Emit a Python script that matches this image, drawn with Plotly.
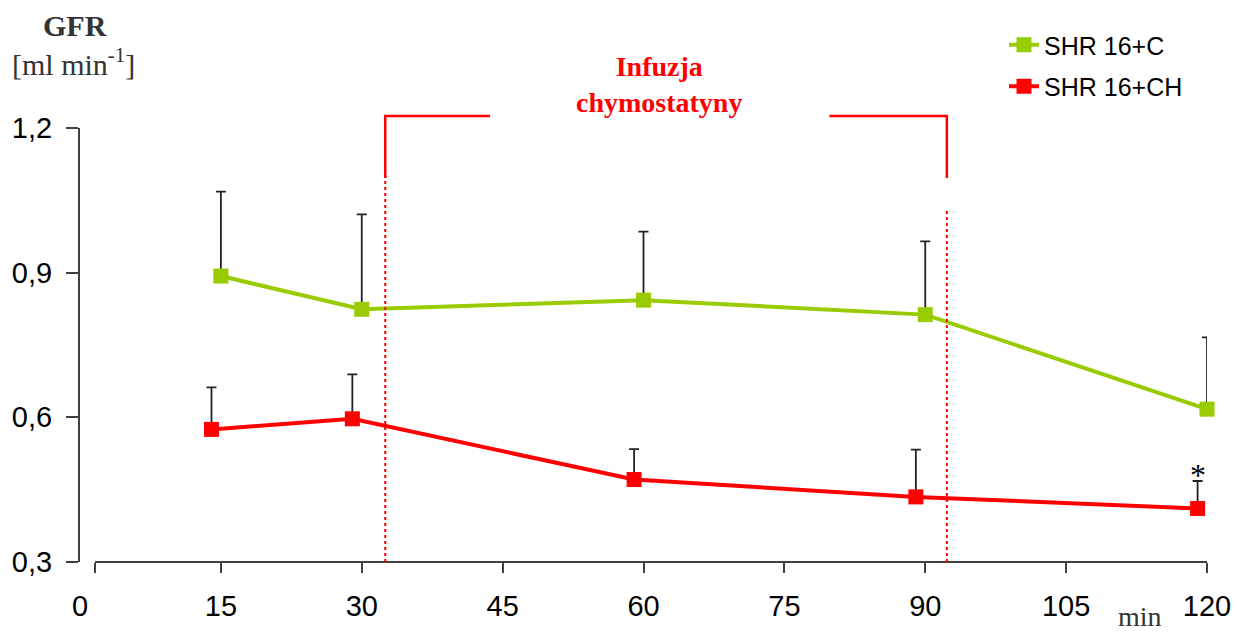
import plotly.graph_objects as go

# GFR readings (ml/min) per sampling minute, mean and upper SEM
minutes_c = [15, 30, 60, 90, 120]
gfr_c = [0.893, 0.824, 0.843, 0.813, 0.617]
sem_c = [0.175, 0.197, 0.142, 0.152, 0.149]

minutes_ch = [14, 29, 59, 89, 119]
gfr_ch = [0.575, 0.597, 0.471, 0.435, 0.411]
sem_ch = [0.087, 0.092, 0.063, 0.098, 0.057]

series_names = ["SHR 16+C", "SHR 16+CH"]
series_colors = ["#99CC00", "#FF0000"]

x_tickvals = [0, 15, 30, 45, 60, 75, 90, 105, 120]
x_ticktext = ["0", "15", "30", "45", "60", "75", "90", "105", "120"]
y_tickvals = [0.3, 0.6, 0.9, 1.2]
y_ticktext = ["0,3", "0,6", "0,9", "1,2"]

# chymostatin infusion window (minutes)
infusion_start = 32.5
infusion_end = 92.3

# significance mark on the last CH point
star_minute = 119

W, H = 1237, 634
M_L, M_R, M_T, M_B = 80, 30, 128, 72
plot_w = W - M_L - M_R
plot_h = H - M_T - M_B
axis_start_px = 15  # x axis line begins slightly right of the y axis
x_axis_start = axis_start_px / plot_w * 120

SANS = "Liberation Sans, Arial, sans-serif"
SERIF = "Liberation Serif, Times New Roman, serif"
AXIS_COLOR = "#404040"

fig = go.Figure()

for i, (xs, ys, es) in enumerate([(minutes_c, gfr_c, sem_c), (minutes_ch, gfr_ch, sem_ch)]):
    fig.add_trace(go.Scatter(
        x=xs, y=ys, mode="lines+markers", name=series_names[i],
        legendgroup=series_names[i], cliponaxis=False,
        line=dict(color=series_colors[i], width=4),
        marker=dict(symbol="square", size=15, color=series_colors[i]),
        error_y=dict(type="data", array=es, arrayminus=[0] * len(es), symmetric=False,
                     color="#222222", thickness=1.8, width=5),
    ))

# carrier trace for the drawn x axis line with its ticks
fig.add_trace(go.Scatter(x=[], y=[], xaxis="x2", yaxis="y", showlegend=False, hoverinfo="skip"))

# infusion window: dotted verticals and bracket
dot_tops = [1 - 39 / plot_h, 1 - 82 / plot_h]
for xv, top in zip([infusion_start, infusion_end], dot_tops):
    fig.add_shape(type="line", xref="x", yref="paper", x0=xv, x1=xv, y0=0, y1=top,
                  line=dict(color="#FF0000", width=2, dash="dot"))

br_top = 1 + 12 / plot_h
br_bot = 1 - 50 / plot_h
gap_left, gap_right = 43.65, 79.8
for path in [
    f"M {infusion_start},{br_bot} L {infusion_start},{br_top} L {gap_left},{br_top}",
    f"M {gap_right},{br_top} L {infusion_end},{br_top} L {infusion_end},{br_bot}",
]:
    fig.add_shape(type="path", xref="x", yref="paper", path=path,
                  line=dict(color="#FF0000", width=2.5))

fig.add_annotation(x=61.6, xref="x", y=1 + 44 / plot_h, yref="paper",
                   text="<b>Infuzja<br>chymostatyny</b>", showarrow=False,
                   font=dict(family=SERIF, size=28, color="#FF0000"),
                   xanchor="center", yanchor="middle", align="center")

fig.add_annotation(x=star_minute, xref="x", y=gfr_ch[-1] + sem_ch[-1], yref="y",
                   text="*", showarrow=False, yanchor="bottom", yshift=-14,
                   font=dict(family=SERIF, size=32, color="#000000"))

fig.add_annotation(x=-5 / plot_w, xref="paper", y=1 + 103 / plot_h, yref="paper",
                   text="<b>GFR</b>", showarrow=False, xanchor="center", yanchor="middle",
                   font=dict(family=SERIF, size=30, color="#333333"))
fig.add_annotation(x=-7 / plot_w, xref="paper", y=1 + 66 / plot_h, yref="paper",
                   text="[ml min<sup>-1</sup>]", showarrow=False, xanchor="center", yanchor="middle",
                   font=dict(family=SERIF, size=30, color="#333333"))
fig.add_annotation(x=112.9, xref="x", y=-M_B / plot_h, yref="paper",
                   text="min", showarrow=False, xanchor="center", yanchor="bottom",
                   font=dict(family=SERIF, size=28, color="#333333"))

fig.update_layout(
    width=W, height=H,
    margin=dict(l=M_L, r=M_R, t=M_T, b=M_B, autoexpand=False),
    paper_bgcolor="white", plot_bgcolor="rgba(0,0,0,0)",
    showlegend=True,
    legend=dict(x=(1004 - M_L) / plot_w, xanchor="left", y=1 + (128 - 22) / plot_h, yanchor="top",
                font=dict(family=SANS, size=25, color="#000000"),
                tracegroupgap=6, traceorder="grouped", bgcolor="rgba(0,0,0,0)"),
    xaxis=dict(range=[0, 120], tickvals=x_tickvals, ticktext=x_ticktext,
               showline=False, showgrid=False, zeroline=False, ticks="",
               ticklabelstandoff=24, automargin=False,
               tickfont=dict(family=SANS, size=29, color="#000000")),
    xaxis2=dict(domain=[axis_start_px / plot_w, 1], anchor="free", position=0,
                range=[x_axis_start, 120], tickvals=[x_axis_start] + x_tickvals[1:],
                showticklabels=False, showline=True, linecolor=AXIS_COLOR, linewidth=2,
                ticks="outside", ticklen=10, tickwidth=2, tickcolor=AXIS_COLOR,
                showgrid=False, zeroline=False, automargin=False),
    yaxis=dict(range=[0.3, 1.2], tickvals=y_tickvals, ticktext=y_ticktext,
               showline=True, linecolor=AXIS_COLOR, linewidth=2,
               ticks="outside", ticklen=12, tickwidth=2, tickcolor=AXIS_COLOR,
               ticklabelstandoff=8, automargin=False,
               showgrid=False, zeroline=False,
               tickfont=dict(family=SANS, size=29, color="#000000")),
)

fig.write_html("out.html")
